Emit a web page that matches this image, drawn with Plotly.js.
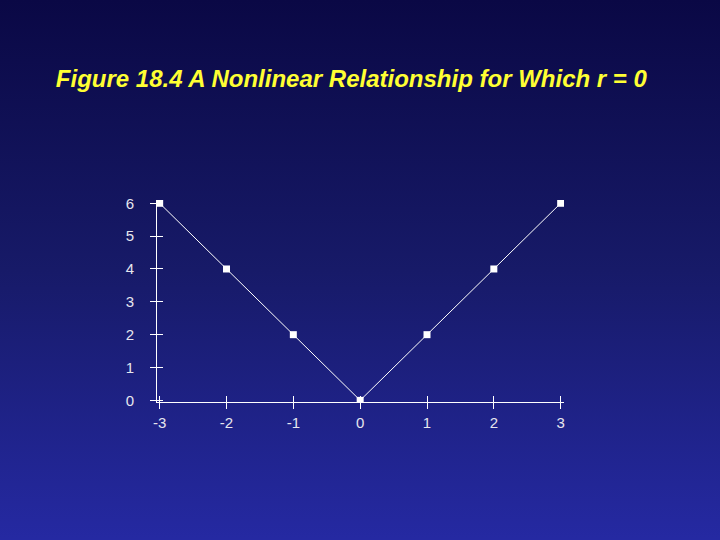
<!DOCTYPE html>
<html>
<head>
<meta charset="utf-8">
<script src="https://cdn.plot.ly/plotly-3.0.1.min.js"></script>
<style>
  html, body { margin: 0; padding: 0; }
  body {
    width: 720px; height: 540px;
    background: linear-gradient(to bottom, #0a0845 0%, #171a68 50%, #2529a2 100%);
  }
</style>
</head>
<body>
<div id="chart" style="width:720px;height:540px;"></div>
<script>
var xValues = [-3, -2, -1, 0, 1, 2, 3];
var yValues = [6, 4, 2, 0, 2, 4, 6];
var xTicks = [-3, -2, -1, 0, 1, 2, 3];
var yTicks = [0, 1, 2, 3, 4, 5, 6];

var lineTrace = {
  x: xValues,
  y: yValues,
  mode: 'lines',
  line: {color: '#ffffff', width: 1},
  hoverinfo: 'skip',
  xaxis: 'x',
  yaxis: 'y'
};

var markerTrace = {
  x: xValues,
  y: yValues,
  mode: 'markers',
  marker: {symbol: 'square', size: 7, color: '#ffffff'},
  xaxis: 'x2',
  yaxis: 'y2'
};

var xRange = [-3.04, 3.05];
var yRange = [-0.05, 6.1];
var tickFont = {family: 'Liberation Sans, Arial, sans-serif', size: 15, color: '#e6e6ee'};

var layout = {
  width: 720,
  height: 540,
  paper_bgcolor: 'rgba(0,0,0,0)',
  plot_bgcolor: 'rgba(0,0,0,0)',
  showlegend: false,
  margin: {l: 157, r: 156, t: 200, b: 138},
  title: {
    text: '<b><i>Figure 18.4 A Nonlinear Relationship for Which r = 0</i></b>',
    font: {family: 'Liberation Sans, Arial, sans-serif', size: 24, color: '#ffff33'},
    x: 0.488,
    xanchor: 'center',
    y: 0.855,
    yanchor: 'middle'
  },
  xaxis: {
    range: xRange,
    tickvals: xTicks,
    ticktext: xTicks.map(String),
    ticks: 'outside',
    ticklen: 6,
    tickwidth: 1,
    tickcolor: '#ffffff',
    showline: true,
    linecolor: '#ffffff',
    linewidth: 1,
    showgrid: false,
    zeroline: false,
    tickfont: tickFont,
    ticklabelstandoff: 1
  },
  yaxis: {
    range: yRange,
    tickvals: yTicks,
    ticktext: yTicks.map(String),
    ticks: 'outside',
    ticklen: 6,
    tickwidth: 1,
    tickcolor: '#ffffff',
    showline: true,
    linecolor: '#ffffff',
    linewidth: 1,
    showgrid: false,
    zeroline: false,
    tickfont: tickFont,
    ticklabelstandoff: 13
  },
  xaxis2: {
    overlaying: 'x',
    anchor: 'y2',
    side: 'bottom',
    range: xRange,
    tickvals: xTicks,
    ticks: 'inside',
    ticklen: 6,
    tickwidth: 1,
    tickcolor: '#ffffff',
    showticklabels: false,
    showline: false,
    showgrid: false,
    zeroline: false
  },
  yaxis2: {
    overlaying: 'y',
    anchor: 'x2',
    side: 'left',
    range: yRange,
    tickvals: yTicks,
    ticks: 'inside',
    ticklen: 6,
    tickwidth: 1,
    tickcolor: '#ffffff',
    showticklabels: false,
    showline: false,
    showgrid: false,
    zeroline: false
  }
};

Plotly.newPlot('chart', [lineTrace, markerTrace], layout, {displayModeBar: false, staticPlot: true});
</script>
</body>
</html>
